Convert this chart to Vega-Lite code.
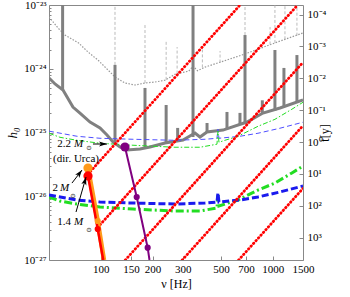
{
"$schema": "https://vega.github.io/schema/vega-lite/v6.json",
"width": 254, "height": 255,
"autosize": {"type": "none"},
"padding": {"left": 49, "top": 5, "right": 47, "bottom": 37},
"background": "white",
"config": {"view": {"stroke": "#888", "strokeWidth": 1}, "font": "Liberation Serif"},
"datasets": {
"light": [{"nu":50,"h":6.5e-24},{"nu":56.4,"h":4.36e-24},{"nu":61.9,"h":3.38e-24},{"nu":74.3,"h":2.54e-24},{"nu":84.3,"h":1.83e-24},{"nu":96.3,"h":1.37e-24},{"nu":110.2,"h":9.55e-25},{"nu":121,"h":7.43e-25},{"nu":138.3,"h":5.97e-25},{"nu":158.1,"h":5.56e-25},{"nu":180.7,"h":5.97e-25},{"nu":206.7,"h":6.19e-25},{"nu":236.3,"h":6.6e-25},{"nu":270,"h":8.2e-25},{"nu":325,"h":9.2e-25},{"nu":345,"h":1.1e-24},{"nu":365,"h":9.3e-25},{"nu":403.6,"h":1.06e-24},{"nu":662,"h":1.64e-24},{"nu":1030,"h":2.54e-24},{"nu":1500,"h":3.64e-24}],
"lightSpikes": [{"nu":121,"h":1.15e-24,"h2":1e-23},{"nu":180.8,"h":5.97e-25,"h2":4.86e-24},{"nu":240,"h":6.7e-25,"h2":2.83e-24},{"nu":278,"h":8.4e-25,"h2":2.19e-24},{"nu":390,"h":1.05e-24,"h2":2.0e-24},{"nu":494,"h":1.25e-24,"h2":1.9e-24},{"nu":690,"h":3.38e-24,"h2":1e-23},{"nu":965,"h":2.4e-24,"h2":4.5e-24},{"nu":1030,"h":2.54e-24,"h2":1e-23},{"nu":1178,"h":2.9e-24,"h2":1e-23},{"nu":1383,"h":3.3e-24,"h2":1e-23}],
"darkSpikes": [{"nu":60,"h":4.65e-25,"h2":1e-23},{"nu":121,"h":7.0e-26,"h2":1.15e-24},{"nu":180.8,"h":5.8e-26,"h2":5.0e-25},{"nu":240,"h":6.9e-26,"h2":2.7e-25},{"nu":280,"h":7.4e-26,"h2":1.18e-25},{"nu":344,"h":8.5e-26,"h2":1e-23},{"nu":415,"h":1.0e-25,"h2":1.41e-25},{"nu":542,"h":1.12e-25,"h2":2.1e-25},{"nu":645,"h":1.35e-25,"h2":2.03e-25},{"nu":690,"h":1.4e-25,"h2":3.38e-24},{"nu":870,"h":2.0e-25,"h2":3.2e-25},{"nu":1030,"h":2.2e-25,"h2":1.97e-24},{"nu":1162,"h":2.5e-25,"h2":1.03e-24},{"nu":1383,"h":2.9e-25,"h2":1.64e-24}],
"dark": [{"nu":50,"h":7.16e-25},{"nu":54.2,"h":5.77e-25},{"nu":60.3,"h":4.65e-25},{"nu":68.9,"h":2.51e-25},{"nu":75.7,"h":2.02e-25},{"nu":86.6,"h":1.46e-25},{"nu":99,"h":1.18e-25},{"nu":108.7,"h":9.14e-26},{"nu":117.8,"h":7.1e-26},{"nu":129.3,"h":5.93e-26},{"nu":142.1,"h":5.31e-26},{"nu":169.1,"h":5.51e-26},{"nu":193.3,"h":5.93e-26},{"nu":236.3,"h":6.84e-26},{"nu":300.8,"h":7.63e-26},{"nu":353.1,"h":9.82e-26},{"nu":377.6,"h":8.49e-26},{"nu":414.6,"h":1.02e-25},{"nu":513.6,"h":1.09e-25},{"nu":708.5,"h":1.46e-25},{"nu":877.4,"h":2.02e-25},{"nu":1102,"h":2.42e-25},{"nu":1500,"h":3.24e-25}],
"ligo": [
{"s":"blueLo","nu":50,"h":1.05e-26},{"s":"blueLo","nu":72.7,"h":8.73e-27},{"s":"blueLo","nu":99,"h":8.12e-27},{"s":"blueLo","nu":153.9,"h":7.83e-27},{"s":"blueLo","nu":270.1,"h":7.55e-27},{"s":"blueLo","nu":403.6,"h":7.83e-27},{"s":"blueLo","nu":474,"h":8.12e-27},{"s":"blueLo","nu":480.3,"h":1.125e-26},{"s":"blueLo","nu":486.8,"h":8.12e-27},{"s":"blueLo","nu":645.2,"h":8.73e-27},{"s":"blueLo","nu":820.7,"h":9.73e-27},{"s":"blueLo","nu":1102,"h":1.167e-26},{"s":"blueLo","nu":1500,"h":1.45e-26},
{"s":"blueHi","nu":50,"h":1.05e-25},{"s":"blueHi","nu":72.7,"h":8.73e-26},{"s":"blueHi","nu":99,"h":8.12e-26},{"s":"blueHi","nu":153.9,"h":7.83e-26},{"s":"blueHi","nu":270.1,"h":7.55e-26},{"s":"blueHi","nu":403.6,"h":7.83e-26},{"s":"blueHi","nu":474,"h":8.12e-26},{"s":"blueHi","nu":480.3,"h":1.125e-25},{"s":"blueHi","nu":486.8,"h":8.12e-26},{"s":"blueHi","nu":645.2,"h":8.73e-26},{"s":"blueHi","nu":820.7,"h":9.73e-26},{"s":"blueHi","nu":1102,"h":1.167e-25},{"s":"blueHi","nu":1500,"h":1.45e-25},
{"s":"greenLo","nu":50,"h":9.73e-27},{"s":"greenLo","nu":57.9,"h":8.41e-27},{"s":"greenLo","nu":72.7,"h":7.55e-27},{"s":"greenLo","nu":99,"h":6.78e-27},{"s":"greenLo","nu":153.9,"h":6.31e-27},{"s":"greenLo","nu":270.1,"h":5.87e-27},{"s":"greenLo","nu":377.6,"h":5.87e-27},{"s":"greenLo","nu":474,"h":6.55e-27},{"s":"greenLo","nu":480.3,"h":1.05e-26},{"s":"greenLo","nu":486.8,"h":7.03e-27},{"s":"greenLo","nu":527.6,"h":7.55e-27},{"s":"greenLo","nu":627.9,"h":8.73e-27},{"s":"greenLo","nu":820.7,"h":1.25e-26},{"s":"greenLo","nu":1030,"h":1.61e-26},{"s":"greenLo","nu":1293,"h":2.32e-26},{"s":"greenLo","nu":1500,"h":2.98e-26},
{"s":"greenHi","nu":50,"h":9.73e-26},{"s":"greenHi","nu":57.9,"h":8.41e-26},{"s":"greenHi","nu":72.7,"h":7.55e-26},{"s":"greenHi","nu":99,"h":6.78e-26},{"s":"greenHi","nu":153.9,"h":6.31e-26},{"s":"greenHi","nu":270.1,"h":5.87e-26},{"s":"greenHi","nu":377.6,"h":5.87e-26},{"s":"greenHi","nu":474,"h":6.55e-26},{"s":"greenHi","nu":480.3,"h":1.05e-25},{"s":"greenHi","nu":486.8,"h":7.03e-26},{"s":"greenHi","nu":527.6,"h":7.55e-26},{"s":"greenHi","nu":627.9,"h":8.73e-26},{"s":"greenHi","nu":820.7,"h":1.25e-25},{"s":"greenHi","nu":1030,"h":1.61e-25},{"s":"greenHi","nu":1293,"h":2.32e-25},{"s":"greenHi","nu":1500,"h":2.98e-25}],
"redlines": [{"id":1,"nu":84.3,"h":2.225e-26},{"id":1,"nu":645.7,"h":1e-23},{"id":2,"nu":95.9,"h":3.24e-27},{"id":2,"nu":1396,"h":1e-23},{"id":3,"nu":138.9,"h":1e-27},{"id":3,"nu":1500,"h":1.26e-24},{"id":4,"nu":297.7,"h":1e-27},{"id":4,"nu":1500,"h":1.28e-25},{"id":5,"nu":633.5,"h":1e-27},{"id":5,"nu":1500,"h":1.328e-26}],
"tracks": [{"s":"orange","nu":84.3,"h":2.77e-26},{"s":"orange","nu":96,"h":4.09e-27},{"s":"orange","nu":104.4,"h":1e-27},{"s":"red","nu":84.3,"h":2.08e-26},{"s":"red","nu":96,"h":3.06e-27},{"s":"red","nu":103.4,"h":1e-27},{"s":"purple","nu":138.3,"h":5.92e-26},{"s":"purple","nu":161.8,"h":9.73e-27},{"s":"purple","nu":187.4,"h":1.56e-27},{"s":"purple","nu":192,"h":1e-27}],
"dots": [{"s":"orange","big":true,"nu":84.3,"h":2.77e-26},{"s":"red","big":true,"nu":84.3,"h":2.08e-26},{"s":"purple","big":true,"nu":138.3,"h":5.92e-26},{"s":"orange","big":false,"nu":96,"h":4.09e-27},{"s":"red","big":false,"nu":96,"h":3.06e-27},{"s":"purple","big":false,"nu":161.8,"h":9.73e-27},{"s":"purple","big":false,"nu":187.4,"h":1.56e-27}],
"arrows": [{"id":"a22","nu":108.7,"h":6.6e-26,"nu2":90.1,"h2":6.6e-26},{"id":"a2","nu":77.8,"h":2.58e-26,"nu2":68.0,"h2":1.61e-26},{"id":"a14","nu":82.1,"h":2.0e-26,"nu2":71.8,"h2":5.66e-27}],
"notes": [{"part":"num","text":"2.2","nu":67.1,"h":6.6e-26},{"part":"M","text":"M","nu":69.9,"h":6.6e-26},{"part":"sun","text":"⊙","nu":85.4,"h":5.75e-26},{"part":"note","text":"(dir. Urca)","nu":71.8,"h":3.9e-26},{"part":"num","text":"2","nu":56.4,"h":1.347e-26},{"part":"M","text":"M","nu":57.9,"h":1.347e-26},{"part":"sun","text":"⊙","nu":68.9,"h":1.009e-26},{"part":"num","text":"1.4","nu":67.1,"h":3.94e-27},{"part":"M","text":"M","nu":69.9,"h":3.94e-27},{"part":"sun","text":"⊙","nu":85.4,"h":2.96e-27}],
"taxis": [{"t":0.001},{"t":100}]
},
"layer": [
{
"encoding": {
"x": {"field": "nu", "type": "quantitative", "scale": {"type": "log", "domain": [50, 1500], "nice": false},
 "axis": {"title": "ν [Hz]", "values": [100,150,200,300,500,700,1000,1500], "format": "d", "domain": false, "grid": false, "labelOverlap": false, "labelBound": false, "labelFlush": false,
  "labelFont": "Liberation Serif", "labelFontSize": 11, "labelColor": "black", "tickColor": "#888", "tickSize": -4, "labelPadding": 7,
  "titleFont": "Liberation Serif", "titleFontSize": 12, "titleFontWeight": "normal", "titleColor": "black", "titlePadding": 4}},
"y": {"field": "h", "type": "quantitative", "scale": {"type": "log", "domain": [1e-27, 1e-23], "nice": false},
 "axis": {"title": "h₀", "titleFontStyle": "italic", "values": [1e-27,2e-27,3e-27,4e-27,5e-27,6e-27,7e-27,8e-27,9e-27,1e-26,2e-26,3e-26,4e-26,5e-26,6e-26,7e-26,8e-26,9e-26,1e-25,2e-25,3e-25,4e-25,5e-25,6e-25,7e-25,8e-25,9e-25,1e-24,2e-24,3e-24,4e-24,5e-24,6e-24,7e-24,8e-24,9e-24,1e-23],
  "labelExpr": "datum.value===1e-23?'10⁻²³':datum.value===1e-24?'10⁻²⁴':datum.value===1e-25?'10⁻²⁵':datum.value===1e-26?'10⁻²⁶':datum.value===1e-27?'10⁻²⁷':''",
  "labelOverlap": false, "domain": false, "grid": false, "labelFont": "Liberation Serif", "labelFontSize": 11, "labelColor": "black", "tickColor": "#888",
  "tickSize": {"condition": {"test": "abs(log(datum.value)/LN10 - round(log(datum.value)/LN10)) < 0.001", "value": -4}, "value": -2},
  "labelPadding": 7, "titleFont": "Liberation Serif", "titleFontSize": 13, "titleFontWeight": "normal", "titleColor": "black", "titlePadding": 4}}
},
"layer": [
{"data": {"name": "light"}, "mark": {"type": "line", "color": "#999", "strokeWidth": 1.2, "strokeDash": [1.5, 1.5], "clip": true}},
{"data": {"name": "lightSpikes"}, "mark": {"type": "rule", "color": "#aaa", "strokeWidth": 0.8, "strokeDash": [3, 2], "clip": true}, "encoding": {"y2": {"field": "h2"}}},
{"data": {"name": "darkSpikes"}, "mark": {"type": "rule", "color": "#808080", "strokeWidth": 3, "clip": true}, "encoding": {"y2": {"field": "h2"}}},
{"data": {"name": "dark"}, "mark": {"type": "line", "color": "#808080", "strokeWidth": 3, "clip": true}},
{"data": {"name": "ligo"}, "transform": [{"filter": "datum.s==='blueHi'"}], "mark": {"type": "line", "color": "#4f4fff", "strokeWidth": 1, "strokeDash": [5, 3], "clip": true}},
{"data": {"name": "ligo"}, "transform": [{"filter": "datum.s==='greenHi'"}], "mark": {"type": "line", "color": "#22dd22", "strokeWidth": 1, "strokeDash": [5, 2, 1.5, 2], "clip": true}},
{"data": {"name": "ligo"}, "transform": [{"filter": "datum.s==='greenLo'"}], "mark": {"type": "line", "color": "#22dd22", "strokeWidth": 3, "strokeDash": [8, 3, 2, 3], "clip": true}},
{"data": {"name": "ligo"}, "transform": [{"filter": "datum.s==='blueLo'"}], "mark": {"type": "line", "color": "#1a1aee", "strokeWidth": 3, "strokeDash": [7, 3], "clip": true}},
{"data": {"name": "redlines"}, "mark": {"type": "line", "color": "#ff0000", "strokeWidth": 2.8, "strokeCap": "round", "strokeDash": [0.5, 3.2], "clip": true}, "encoding": {"detail": {"field": "id"}}},
{"data": {"name": "tracks"}, "transform": [{"filter": "datum.s==='orange'"}], "mark": {"type": "line", "color": "#ff9a1a", "strokeWidth": 4.5, "clip": true}},
{"data": {"name": "tracks"}, "transform": [{"filter": "datum.s==='red'"}], "mark": {"type": "line", "color": "#ff0000", "strokeWidth": 2.5, "clip": true}},
{"data": {"name": "tracks"}, "transform": [{"filter": "datum.s==='purple'"}], "mark": {"type": "line", "color": "#800080", "strokeWidth": 2, "clip": true}},
{"data": {"name": "dots"}, "transform": [{"filter": "datum.big"}], "mark": {"type": "circle", "size": 85, "opacity": 1},
 "encoding": {"color": {"field": "s", "type": "nominal", "scale": {"domain": ["orange", "red", "purple"], "range": ["#ff9a1a", "#ff0000", "#800080"]}, "legend": null}}},
{"data": {"name": "dots"}, "transform": [{"filter": "!datum.big"}], "mark": {"type": "circle", "size": 38, "opacity": 1},
 "encoding": {"color": {"field": "s", "type": "nominal", "scale": {"domain": ["orange", "red", "purple"], "range": ["#ff9a1a", "#ff0000", "#800080"]}, "legend": null}}},
{"data": {"name": "arrows"}, "mark": {"type": "rule", "color": "black", "strokeWidth": 1}, "encoding": {"x2": {"field": "nu2"}, "y2": {"field": "h2"}}},
{"data": {"name": "arrows"}, "transform": [{"filter": "datum.id==='a22'"}], "mark": {"type": "point", "shape": "M0,0L-2,-0.65L-1.5,0L-2,0.65Z", "size": 64, "filled": true, "color": "black", "opacity": 1, "angle": 0}},
{"data": {"name": "arrows"}, "transform": [{"filter": "datum.id==='a2'"}], "mark": {"type": "point", "shape": "M0,0L-2,-0.65L-1.5,0L-2,0.65Z", "size": 64, "filled": true, "color": "black", "opacity": 1, "angle": 307}},
{"data": {"name": "arrows"}, "transform": [{"filter": "datum.id==='a14'"}], "mark": {"type": "point", "shape": "M0,0L-2,-0.65L-1.5,0L-2,0.65Z", "size": 64, "filled": true, "color": "black", "opacity": 1, "angle": 286}},
{"data": {"name": "notes"}, "transform": [{"filter": "datum.part==='num'"}], "mark": {"type": "text", "align": "right", "baseline": "middle", "font": "Liberation Serif", "fontSize": 11, "color": "black"}, "encoding": {"text": {"field": "text"}}},
{"data": {"name": "notes"}, "transform": [{"filter": "datum.part==='M'"}], "mark": {"type": "text", "align": "left", "baseline": "middle", "font": "Liberation Serif", "fontSize": 11, "fontStyle": "italic", "color": "black"}, "encoding": {"text": {"field": "text"}}},
{"data": {"name": "notes"}, "transform": [{"filter": "datum.part==='sun'"}], "mark": {"type": "text", "align": "center", "baseline": "middle", "font": "DejaVu Sans", "fontSize": 6.5, "color": "black"}, "encoding": {"text": {"field": "text"}}},
{"data": {"name": "notes"}, "transform": [{"filter": "datum.part==='note'"}], "mark": {"type": "text", "align": "center", "baseline": "middle", "font": "Liberation Serif", "fontSize": 11, "color": "black"}, "encoding": {"text": {"field": "text"}}}
]
},
{"data": {"name": "taxis"}, "mark": {"type": "point", "opacity": 0},
 "encoding": {"y": {"field": "t", "type": "quantitative", "scale": {"type": "log", "domain": [5.0119e-5, 5011.9], "nice": false, "reverse": true},
  "axis": {"orient": "right", "title": "t[y]", "titleAngle": 270, "values": [0.0001,0.001,0.01,0.1,1,10,100,1000],
   "labelExpr": "datum.value===0.0001?'10⁻⁴':datum.value===0.001?'10⁻³':datum.value===0.01?'10⁻²':datum.value===0.1?'10⁻¹':datum.value===1?'10⁰':datum.value===10?'10¹':datum.value===100?'10²':datum.value===1000?'10³':''",
   "labelOverlap": false, "domain": false, "grid": false, "labelFont": "Liberation Serif", "labelFontSize": 11, "labelColor": "black", "tickColor": "#888", "tickSize": -4, "labelPadding": 8,
   "titleFont": "Liberation Serif", "titleFontSize": 12, "titleFontWeight": "normal", "titleColor": "black", "titlePadding": 6}}}}
],
"resolve": {"scale": {"y": "independent"}, "axis": {"y": "independent"}}
}
